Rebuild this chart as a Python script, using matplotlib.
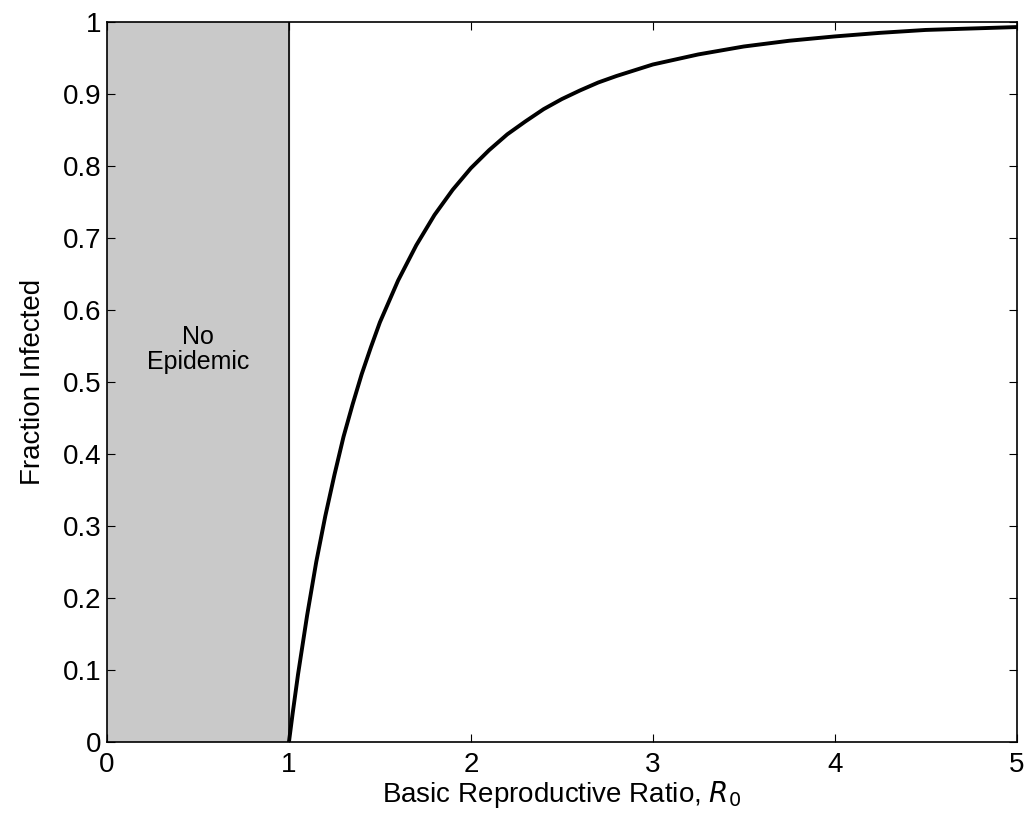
import numpy as np
import matplotlib.pyplot as plt

plt.rcParams['font.family'] = ['Liberation Sans', 'DejaVu Sans']

# values
r0 = [1.0, 1.02, 1.05, 1.1, 1.15, 1.2, 1.25, 1.3, 1.35, 1.4, 1.45, 1.5,
      1.6, 1.7, 1.8, 1.9, 2.0, 2.1, 2.2, 2.3, 2.4, 2.5, 2.6, 2.7, 2.8,
      3.0, 3.25, 3.5, 3.75, 4.0, 4.25, 4.5, 4.75, 5.0]
frac = [0.0, 0.039, 0.094, 0.176, 0.250, 0.314, 0.371, 0.424, 0.469,
        0.511, 0.548, 0.583, 0.641, 0.690, 0.732, 0.767, 0.797, 0.822,
        0.844, 0.862, 0.879, 0.893, 0.905, 0.916, 0.925, 0.941, 0.955,
        0.966, 0.974, 0.980, 0.985, 0.989, 0.991, 0.993]
xticks = [0, 1, 2, 3, 4, 5]
yticks = [0, 0.1, 0.2, 0.3, 0.4, 0.5, 0.6, 0.7, 0.8, 0.9, 1]
ytick_labels = ['0', '0.1', '0.2', '0.3', '0.4', '0.5', '0.6', '0.7', '0.8', '0.9', '1']

fig = plt.figure(figsize=(10.29, 8.25), dpi=100)
ax = fig.add_axes([0.104, 0.1006, 0.884, 0.8727])

ax.axvspan(0, 1, color='#c9c9c9', zorder=0)
ax.axvline(1, color='black', lw=1.2)
ax.plot(r0, frac, color='black', lw=2.8)
ax.text(0.5, 0.545, 'No\nEpidemic', ha='center', va='center', fontsize=18,
        linespacing=1.05)

ax.set_xlim(0, 5)
ax.set_ylim(0, 1)
ax.set_xticks(xticks)
ax.set_yticks(yticks)
ax.set_yticklabels(ytick_labels)
ax.tick_params(direction='in', top=True, right=True, labelsize=20, length=6)
ax.tick_params(axis='x', pad=7)
ax.tick_params(axis='y', pad=4)
for s in ax.spines.values():
    s.set_linewidth(1.2)
ax.set_xlabel('Basic Reproductive Ratio, $R_0$', fontsize=20, labelpad=1)
ax.set_ylabel('Fraction Infected', fontsize=20, labelpad=12)

fig.savefig('out.png', dpi=100)
